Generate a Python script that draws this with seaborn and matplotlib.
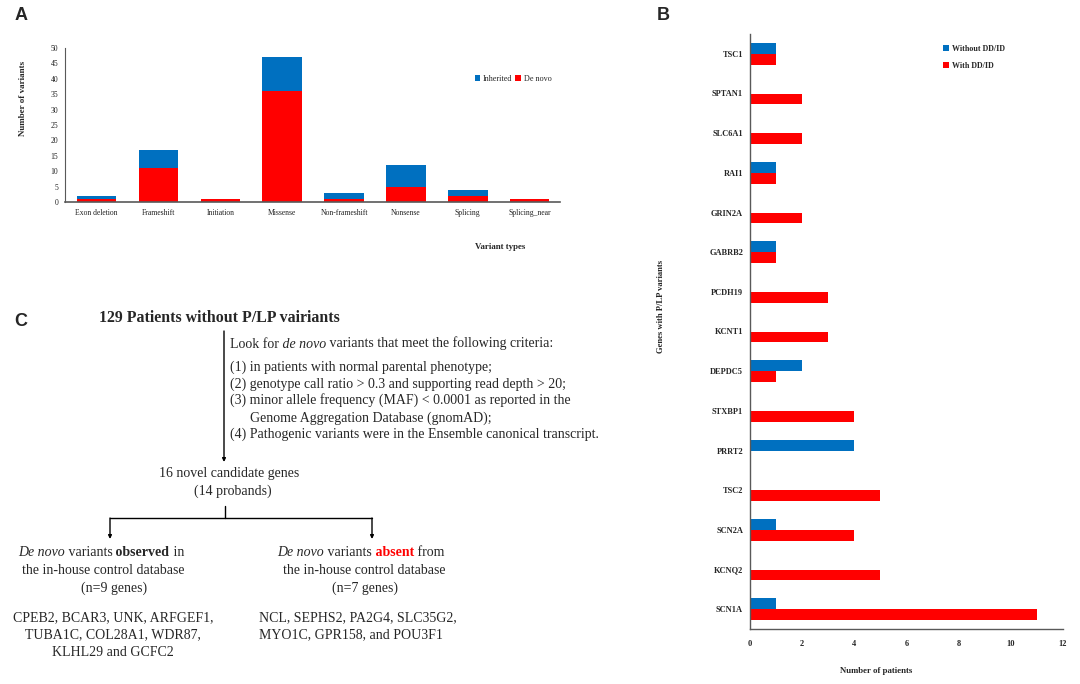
import numpy as np
import pandas as pd
import matplotlib
matplotlib.use("Agg")
import matplotlib.pyplot as plt
import seaborn as sns

# ---- data: panel A ----
variant_types = ['Exon deletion', 'Frameshift', 'Initiation', 'Missense',
                 'Non-frameshift', 'Nonsense', 'Splicing', 'Splicing_near']
de_novo = [1, 11, 1, 36, 1, 5, 2, 1]
inherited = [1, 6, 0, 11, 2, 7, 2, 0]

# ---- data: panel B ----
genes = ['TSC1', 'SPTAN1', 'SLC6A1', 'RAI1', 'GRIN2A', 'GABRB2', 'PCDH19', 'KCNT1',
         'DEPDC5', 'STXBP1', 'PRRT2', 'TSC2', 'SCN2A', 'KCNQ2', 'SCN1A']
without_ddid = [1, 0, 0, 1, 0, 1, 0, 0, 2, 0, 4, 0, 1, 0, 1]
with_ddid = [1, 2, 2, 1, 2, 1, 3, 3, 1, 4, 0, 5, 4, 5, 11]

BLUE = '#0070C0'
RED = '#FF0000'
AXC = '#595959'

sns.set_theme(style='white')
plt.rcParams['font.family'] = ['Liberation Serif', 'DejaVu Serif']
plt.rcParams['axes.unicode_minus'] = False

W, H = 1080, 684
fig = plt.figure(figsize=(W / 100, H / 100), dpi=100)

# overlay in pixel coordinates for panel labels and the flowchart
axc = fig.add_axes([0, 0, 1, 1])
axc.set_xlim(0, W)
axc.set_ylim(H, 0)
axc.axis('off')
axc.patch.set_alpha(0)

def box(l, t, r, b):
    return [l / W, 1 - b / H, (r - l) / W, (b - t) / H]

# ---- panel A ----
df_a = pd.DataFrame({'type': variant_types, 'de_novo': de_novo, 'inherited': inherited})
df_a['total'] = df_a['de_novo'] + df_a['inherited']

ax1 = fig.add_axes(box(65, 48, 560, 202))
sns.barplot(data=df_a, x='type', y='total', color=BLUE, width=0.64,
            saturation=1, linewidth=0, ax=ax1, label='Inherited')
sns.barplot(data=df_a, x='type', y='de_novo', color=RED, width=0.64,
            saturation=1, linewidth=0, ax=ax1, label='De novo')
ax1.set_ylim(0, 50)
ax1.set_xlim(-0.51, 7.49)
ax1.set_yticks(range(0, 51, 5))
ax1.set_xlabel('')
ax1.set_ylabel('')
ax1.tick_params(axis='both', length=0, labelsize=5.5, colors='#222222')
ax1.tick_params(axis='x', pad=5)
ax1.tick_params(axis='y', pad=5)
for s in ['top', 'right']:
    ax1.spines[s].set_visible(False)
ax1.spines['left'].set_color(AXC)
ax1.spines['bottom'].set_color(AXC)
ax1.spines['left'].set_linewidth(0.8)
ax1.spines['bottom'].set_linewidth(1.2)
ax1.legend(loc='center', bbox_to_anchor=(513 / W, 1 - 79 / H), bbox_transform=fig.transFigure,
           ncol=2, frameon=False, fontsize=5.9, handlelength=0.7, handleheight=0.7,
           handletextpad=0.3, columnspacing=0.4)
axc.text(23, 98, 'Number of variants', rotation=90, ha='center', va='center',
         fontsize=6.5, fontweight='bold')
axc.text(500, 247, 'Variant types', ha='center', va='center', fontsize=6.4, fontweight='bold')

# ---- panel B ----
df_b = pd.DataFrame({
    'gene': genes * 2,
    'n': without_ddid + with_ddid,
    'group': ['Without DD/ID'] * len(genes) + ['With DD/ID'] * len(genes),
})
ax2 = fig.add_axes(box(750, 34, 1063, 629))
sns.barplot(data=df_b, y='gene', x='n', hue='group', orient='h',
            hue_order=['Without DD/ID', 'With DD/ID'], palette=[BLUE, RED],
            width=0.55, saturation=1, linewidth=0, ax=ax2)
ax2.set_xlim(0, 12)
ax2.set_ylim(14.5, -0.5)
ax2.set_xticks(range(0, 13, 2))
ax2.set_xlabel('')
ax2.set_ylabel('')
ax2.tick_params(axis='y', length=0, labelsize=6, pad=5)
ax2.tick_params(axis='x', length=3, width=0.8, color=AXC, labelsize=6, pad=5, direction='out')
for lab in ax2.get_xticklabels() + ax2.get_yticklabels():
    lab.set_fontweight('bold')
for s in ['top', 'right']:
    ax2.spines[s].set_visible(False)
ax2.spines['left'].set_color(AXC)
ax2.spines['bottom'].set_color(AXC)
ax2.spines['left'].set_linewidth(1.0)
ax2.spines['bottom'].set_linewidth(1.0)
ax2.legend(loc='center left', bbox_to_anchor=(936 / W, 1 - 57.5 / H), bbox_transform=fig.transFigure,
           frameon=False, prop={'size': 5.8, 'weight': 'bold'}, handlelength=0.7,
           handleheight=0.7, handletextpad=0.4, labelspacing=1.1)
axc.text(661, 306, 'Genes with P/LP variants', rotation=90, ha='center', va='center',
         fontsize=6.2, fontweight='bold')
axc.text(876, 671, 'Number of patients', ha='center', va='center', fontsize=6.3, fontweight='bold')

# ---- panel labels ----
for lab, (x, y) in zip('ABC', [(21, 16), (663, 15), (21, 322)]):
    axc.text(x, y, lab, ha='center', va='center', fontsize=13, fontweight='bold',
             family=['Liberation Sans', 'DejaVu Sans'])

# ---- panel C: flowchart ----
FS = 10

def rich(x, y, parts, size=FS):
    t = axc.text(x, y, parts[0][0], ha='left', va='center', fontsize=size, **parts[0][1])
    for s, st in parts[1:]:
        t = axc.annotate(s, xy=(1, 0), xycoords=t, va='bottom', ha='left',
                         fontsize=size, **st)

axc.text(219.5, 318, '129 Patients without P/LP vairiants', ha='center', va='center',
         fontsize=11.4, fontweight='bold')
arrow = dict(arrowstyle='-|>', color='black', lw=1.0, mutation_scale=5, shrinkA=0, shrinkB=0)
axc.annotate('', xy=(224, 462), xytext=(224, 331), arrowprops=arrow)

rich(230, 344, [('Look for', {}), (' de novo', {'style': 'italic'}),
                (' variants that meet the following criteria:', {})])
criteria = [
    (230, 367, '(1) in patients with normal parental phenotype;'),
    (230, 384, '(2) genotype call ratio > 0.3 and supporting read depth > 20;'),
    (230, 400, '(3) minor allele frequency (MAF) < 0.0001 as reported in the'),
    (250, 418, 'Genome Aggregation Database (gnomAD);'),
    (230, 434, '(4) Pathogenic variants were in the Ensemble canonical transcript.'),
]
for x, y, s in criteria:
    axc.text(x, y, s, ha='left', va='center', fontsize=FS)

axc.text(229, 473, '16 novel candidate genes', ha='center', va='center', fontsize=FS)
axc.text(233, 491, '(14 probands)', ha='center', va='center', fontsize=FS)

axc.plot([225, 225], [506, 518], color='black', lw=1.0)
axc.plot([110, 372], [518, 518], color='black', lw=1.0)
axc.annotate('', xy=(110, 539), xytext=(110, 518), arrowprops=arrow)
axc.annotate('', xy=(372, 539), xytext=(372, 518), arrowprops=arrow)

rich(18, 553, [('De novo', {'style': 'italic'}), (' variants', {}),
               (' observed', {'weight': 'bold'}), (' in', {})])
axc.text(103, 571, 'the in-house control database', ha='center', va='center', fontsize=FS)
axc.text(114, 588, '(n=9 genes)', ha='center', va='center', fontsize=FS)

rich(277, 553, [('De novo', {'style': 'italic'}), (' variants', {}),
                (' absent', {'weight': 'bold', 'color': RED}), (' from', {})])
axc.text(364, 571, 'the in-house control database', ha='center', va='center', fontsize=FS)
axc.text(365, 588, '(n=7 genes)', ha='center', va='center', fontsize=FS)

for y, s in [(618, 'CPEB2, BCAR3, UNK, ARFGEF1,'), (635, 'TUBA1C, COL28A1, WDR87,'),
             (652, 'KLHL29 and GCFC2')]:
    axc.text(113, y, s, ha='center', va='center', fontsize=FS)
for y, s in [(618, 'NCL, SEPHS2, PA2G4, SLC35G2,'), (635, 'MYO1C, GPR158, and POU3F1')]:
    axc.text(259, y, s, ha='left', va='center', fontsize=FS)

fig.savefig('out.png', dpi=100)
